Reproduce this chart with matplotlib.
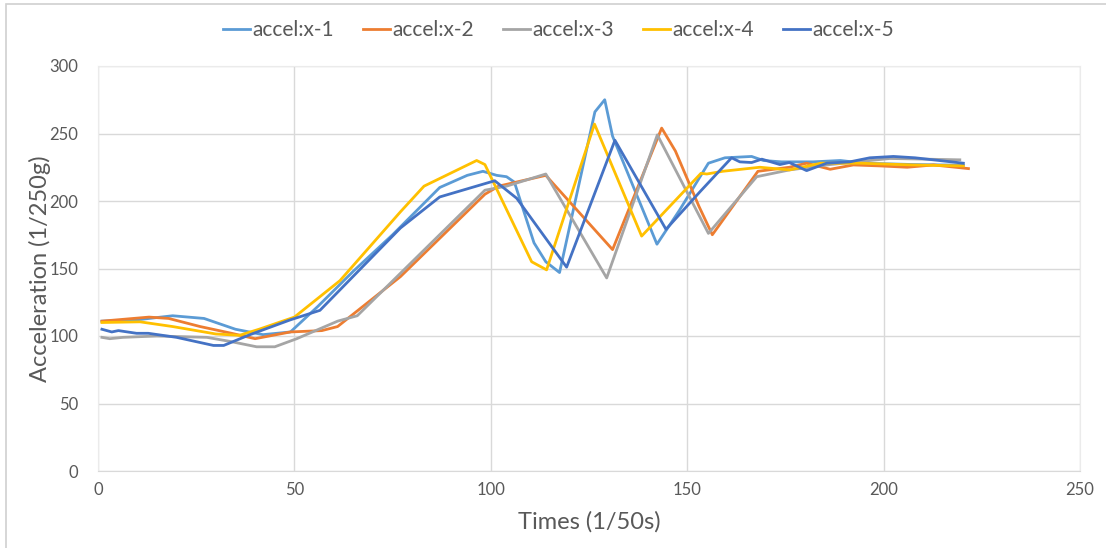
import matplotlib.pyplot as plt
from matplotlib.patches import Rectangle

plt.rcParams['font.family'] = ['Lato', 'DejaVu Sans']

# sample index (1/50 s) and acceleration (1/250 g) for each run
x1 = [1, 10, 19, 27, 35, 42, 49, 56, 65, 75, 87, 94, 98, 101.5, 104, 106, 111, 114, 117.5,
      126.5, 129, 131, 142.3, 148, 155.4, 159.6, 166.4, 169.4, 174, 182, 189, 195, 207.6, 220.3]
y1 = [111, 112, 115, 113, 105, 101, 103, 122, 148, 175, 210, 219, 222, 219, 218, 214, 169, 155, 147,
      266, 275, 248, 168, 193, 228, 232, 233, 230, 229, 229, 230, 228, 227, 226.5]

x2 = [1, 13, 18, 26, 34, 40, 49, 57, 61, 77, 98.5, 102, 114, 131, 143.5, 147, 153, 156.4,
      168, 176, 180.4, 186.4, 192.3, 199, 206, 212.7, 221.6]
y2 = [111, 114, 113, 107, 102, 98, 103, 104, 107, 144, 205, 211, 219, 164, 254, 237, 196, 175,
      222, 225, 228, 223.5, 226.7, 226, 225, 226.7, 224]

x3 = [1, 3, 6.4, 15, 27.7, 33.6, 40.4, 45, 50.6, 61, 66, 98.5, 104, 114, 129.5, 142.4,
      155.4, 167.7, 176, 186.4, 201.6, 219.4]
y3 = [99, 98, 99, 100, 99, 96, 92, 92, 98, 111, 115, 208, 211, 220, 143, 249,
      176, 218, 223, 227, 231.5, 230.5]

x4 = [1, 10.7, 19, 30, 36, 41, 50, 61.6, 77, 83, 96.4, 98.5, 110.4, 114.2, 126.4, 138.4,
      153.5, 155, 159, 168.5, 176, 184, 194, 207.6, 220.3]
y4 = [110, 110.5, 107, 101.5, 100.5, 105, 114, 141, 192, 211, 230, 227, 155, 149, 257, 174,
      220.5, 220, 222, 225, 223, 228, 228, 226.7, 226]

x5 = [1, 3.5, 5.2, 9.8, 12.8, 20, 29.4, 32, 38.7, 49, 56.5, 77, 87, 101, 106.6, 119.3,
      131.6, 144.6, 153.3, 161.3, 163.4, 166.4, 169, 173.6, 176, 180.4, 185.5, 191.4,
      196.5, 202.5, 208, 220.3]
y5 = [105, 103, 104, 102, 102, 99, 93, 93, 101, 112, 119, 180, 203, 215, 202, 151,
      245, 179, 207, 232, 229, 228.5, 231, 227, 228.5, 222.5, 228, 229,
      232, 233, 232, 228]

names = ['accel:x-1', 'accel:x-2', 'accel:x-3', 'accel:x-4', 'accel:x-5']
colors = ['#5B9BD5', '#ED7D31', '#A5A5A5', '#FFC000', '#4472C4']
series = [(x1, y1), (x2, y2), (x3, y3), (x4, y4), (x5, y5)]

fig = plt.figure(figsize=(11.06, 5.48), dpi=100)
ax = fig.add_axes([98 / 1106, 77 / 548, 982 / 1106, 405 / 548])

for (xs, ys), name, c in zip(series, names, colors):
    ax.plot(xs, ys, color=c, lw=2, label=name, solid_joinstyle='round')

ax.set_xlim(0, 250)
ax.set_ylim(0, 300)
ax.set_xticks(range(0, 251, 50))
ax.set_yticks(range(0, 301, 50))
ax.grid(True, color='#D9D9D9', lw=1)
ax.set_axisbelow(True)
for s in ['top', 'right', 'left']:
    ax.spines[s].set_color('#EBEBEB')
ax.spines['bottom'].set_color('#D9D9D9')
ax.tick_params(length=0, labelsize=12, labelcolor='#595959')
ax.tick_params(axis='x', pad=8)
ax.tick_params(axis='y', pad=14)

ax.set_xlabel('Times (1/50s)', fontsize=17, color='#595959', labelpad=9)
ax.set_ylabel('Acceleration (1/250g)', fontsize=17, color='#595959', labelpad=-1)

fig.legend(loc='center', bbox_to_anchor=(0.505, 0.945), ncol=5, frameon=False,
           fontsize=15, handlelength=1.3, handletextpad=0.1, columnspacing=1.4,
           labelcolor='#595959')

# outer chart frame
fig.patches.append(Rectangle((6 / 1106, -0.1), 1.2, 1.1 - 4 / 548, transform=fig.transFigure,
                             fill=False, ec='#D0D0D0', lw=1.2))

fig.savefig('out.png', dpi=100)
